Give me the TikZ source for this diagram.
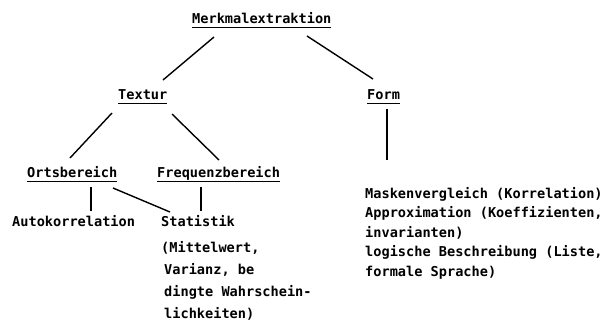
\documentclass[tikz,border=0pt]{standalone}
\usepackage{fontspec}
\setmonofont{DejaVu Sans Mono}
\usepackage{tikz}
\usetikzlibrary{positioning}
\newlength{\ulwidth}
\newcommand{\ulhead}[1]{\settowidth{\ulwidth}{#1}\rlap{\rule[-5.2pt]{\ulwidth}{1.3pt}}#1}

\begin{document}
\begin{tikzpicture}[x=1pt, y=-1pt,
    term/.style={font=\ttfamily\bfseries\fontsize{13.6}{16}\selectfont, anchor=base west, inner sep=0pt},
    branch/.style={line width=1.4pt}]
        \useasboundingbox (0,0) rectangle (608,330);
        % Hierarchy of headings
        \node[term] (merk) at (192,23) {\ulhead{Merkmalextraktion}};
        \node[term] (textur) at (118,99) {\ulhead{Textur}};
        \node[term] (form) at (367,99) {\ulhead{Form}};
        \node[term] (orts) at (27,177) {\ulhead{Ortsbereich}};
        \node[term] (freq) at (157,177) {\ulhead{Frequenzbereich}};
        % Leaves
        \node[term] (auto) at (12,226) {Autokorrelation};
        \node[term] (stat) at (161,226) {\def\arraystretch{1.36}%
            \begin{tabular}[t]{@{}l@{}}
                Statistik\\[5pt]
                (Mittelwert,\\
                \hspace{3pt}Varianz, be\\
                \hspace{3pt}dingte Wahrschein-\\
                \hspace{3pt}lichkeiten)
            \end{tabular}};
        \node[term] (masken) at (365,198) {\def\arraystretch{1.22}%
            \begin{tabular}[t]{@{}l@{}}
                Maskenvergleich (Korrelation)\\
                Approximation (Koeffizienten,\\
                invarianten)\\
                logische Beschreibung (Liste,\\
                formale Sprache)
            \end{tabular}};
        % Branches
        \draw[branch] ([shift={(22,14)}]merk.base west) -- ([shift={(45,-19)}]textur.base west);
        \draw[branch] ([shift={(115,13)}]merk.base west) -- ([shift={(6,-20)}]form.base west);
        \draw[branch] ([shift={(-6,14)}]textur.base west) -- ([shift={(43,-19)}]orts.base west);
        \draw[branch] ([shift={(54,15)}]textur.base west) -- ([shift={(62,-17)}]freq.base west);
        \draw[branch] ([shift={(20,10)}]form.base west) -- ([shift={(22,-38)}]masken.base west);
        \draw[branch] ([shift={(64,10)}]orts.base west) -- ([shift={(79,-15)}]auto.base west);
        \draw[branch] ([shift={(86,11)}]orts.base west) -- ([shift={(9,-14)}]stat.base west);
        \draw[branch] ([shift={(44,10)}]freq.base west) -- ([shift={(40,-15)}]stat.base west);
    \end{tikzpicture}
\end{document}
